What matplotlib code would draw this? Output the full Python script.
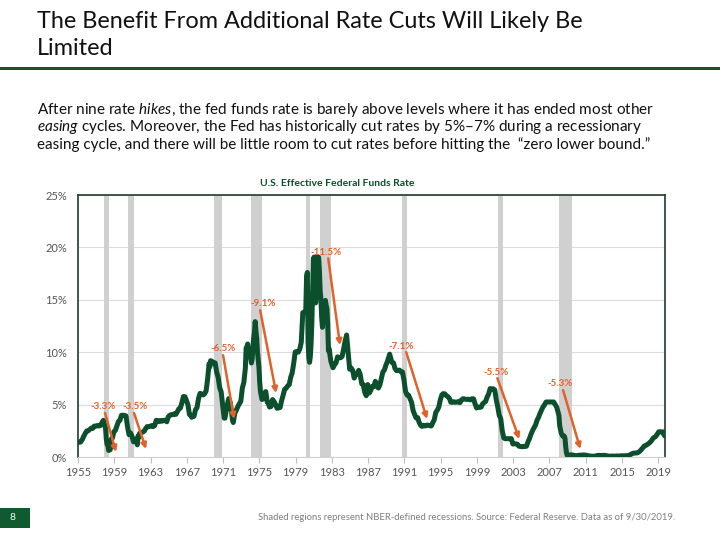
#!/usr/bin/env python3
"""
plot.py - U.S. effective federal funds rate with NBER recessions and the
size of each recessionary easing cycle.
"""

import matplotlib
matplotlib.use("Agg")
import matplotlib.pyplot as plt
from matplotlib.patches import Rectangle

# monthly averages of the effective fed funds rate
obs_dates = [
    "1955-01", "1955-04", "1955-06", "1955-08", "1955-10", "1955-12",
    "1956-02", "1956-04", "1956-06", "1956-08", "1956-10", "1956-12",
    "1957-02", "1957-04", "1957-06", "1957-08", "1957-10", "1957-11", "1957-12",
    "1958-01", "1958-02", "1958-03", "1958-04", "1958-05", "1958-06",
    "1958-07", "1958-08", "1958-09", "1958-10", "1958-12",
    "1959-02", "1959-04", "1959-06", "1959-08", "1959-10", "1959-12",
    "1960-02", "1960-04", "1960-06", "1960-08", "1960-10", "1960-12",
    "1961-02", "1961-04", "1961-06", "1961-07", "1961-08", "1961-09", "1961-10", "1961-12",
    "1962-02", "1962-04", "1962-06", "1962-08", "1962-10", "1962-12",
    "1963-02", "1963-04", "1963-06", "1963-08", "1963-10", "1963-12",
    "1964-02", "1964-04", "1964-06", "1964-08", "1964-10", "1964-12",
    "1965-02", "1965-04", "1965-06", "1965-08", "1965-10", "1965-12",
    "1966-02", "1966-04", "1966-06", "1966-08", "1966-10", "1966-12",
    "1967-02", "1967-04", "1967-06", "1967-07", "1967-08", "1967-10", "1967-12",
    "1968-02", "1968-04", "1968-06", "1968-08", "1968-10", "1968-12",
    "1969-02", "1969-04", "1969-06", "1969-07", "1969-08", "1969-10", "1969-12",
    "1970-02", "1970-04", "1970-06", "1970-08", "1970-10", "1970-12",
    "1971-02", "1971-03", "1971-04", "1971-06", "1971-07", "1971-08", "1971-10", "1971-12",
    "1972-01", "1972-02", "1972-04", "1972-06", "1972-08", "1972-10", "1972-12",
    "1973-02", "1973-04", "1973-06", "1973-07", "1973-08", "1973-09", "1973-10", "1973-12",
    "1974-02", "1974-03", "1974-04", "1974-05", "1974-06", "1974-07", "1974-08",
    "1974-09", "1974-10", "1974-12",
    "1975-01", "1975-02", "1975-04", "1975-06", "1975-07", "1975-09", "1975-11", "1975-12",
    "1976-02", "1976-04", "1976-06", "1976-08", "1976-10", "1976-12",
    "1977-02", "1977-04", "1977-06", "1977-08", "1977-10", "1977-12",
    "1978-02", "1978-04", "1978-06", "1978-08", "1978-10", "1978-12",
    "1979-02", "1979-04", "1979-06", "1979-08", "1979-10", "1979-12",
    "1980-01", "1980-02", "1980-03", "1980-04", "1980-05", "1980-06",
    "1980-07", "1980-08", "1980-09", "1980-10", "1980-11", "1980-12",
    "1981-01", "1981-02", "1981-03", "1981-04", "1981-05", "1981-06",
    "1981-07", "1981-08", "1981-09", "1981-10", "1981-11", "1981-12",
    "1982-01", "1982-02", "1982-03", "1982-04", "1982-05", "1982-06",
    "1982-07", "1982-08", "1982-09", "1982-10", "1982-11", "1982-12",
    "1983-02", "1983-04", "1983-06", "1983-08", "1983-10", "1983-12",
    "1984-02", "1984-04", "1984-06", "1984-08", "1984-10", "1984-12",
    "1985-02", "1985-04", "1985-06", "1985-08", "1985-10", "1985-12",
    "1986-02", "1986-04", "1986-06", "1986-08", "1986-10", "1986-12",
    "1987-02", "1987-04", "1987-06", "1987-08", "1987-10", "1987-12",
    "1988-02", "1988-04", "1988-06", "1988-08", "1988-10", "1988-12",
    "1989-02", "1989-03", "1989-05", "1989-06", "1989-08", "1989-10", "1989-12",
    "1990-02", "1990-04", "1990-06", "1990-08", "1990-10", "1990-12",
    "1991-02", "1991-04", "1991-06", "1991-08", "1991-10", "1991-12",
    "1992-02", "1992-04", "1992-06", "1992-08", "1992-10", "1992-12",
    "1993-02", "1993-04", "1993-06", "1993-08", "1993-10", "1993-12",
    "1994-02", "1994-04", "1994-06", "1994-08", "1994-10", "1994-12",
    "1995-02", "1995-04", "1995-06", "1995-08", "1995-10", "1995-12",
    "1996-02", "1996-04", "1996-06", "1996-08", "1996-10", "1996-12",
    "1997-02", "1997-04", "1997-06", "1997-08", "1997-10", "1997-12",
    "1998-02", "1998-04", "1998-06", "1998-08", "1998-10", "1998-12",
    "1999-02", "1999-04", "1999-06", "1999-08", "1999-10", "1999-12",
    "2000-02", "2000-04", "2000-06", "2000-08", "2000-10", "2000-12",
    "2001-01", "2001-02", "2001-04", "2001-06", "2001-08", "2001-10", "2001-12",
    "2002-02", "2002-04", "2002-06", "2002-08", "2002-10", "2002-12",
    "2003-02", "2003-04", "2003-06", "2003-08", "2003-10", "2003-12",
    "2004-02", "2004-04", "2004-06", "2004-08", "2004-10", "2004-12",
    "2005-02", "2005-04", "2005-06", "2005-08", "2005-10", "2005-12",
    "2006-02", "2006-04", "2006-06", "2006-08", "2006-10", "2006-12",
    "2007-02", "2007-04", "2007-06", "2007-08", "2007-10", "2007-12",
    "2008-01", "2008-02", "2008-04", "2008-06", "2008-08", "2008-09",
    "2008-10", "2008-11", "2008-12",
    "2009-03", "2009-06", "2009-09", "2009-12",
    "2010-03", "2010-06", "2010-09", "2010-12",
    "2011-03", "2011-06", "2011-09", "2011-12",
    "2012-03", "2012-06", "2012-09", "2012-12",
    "2013-03", "2013-06", "2013-09", "2013-12",
    "2014-03", "2014-06", "2014-09", "2014-12",
    "2015-03", "2015-06", "2015-09", "2015-12",
    "2016-03", "2016-06", "2016-09", "2016-12",
    "2017-03", "2017-06", "2017-09", "2017-12",
    "2018-03", "2018-06", "2018-09", "2018-12",
    "2019-01", "2019-03", "2019-06", "2019-07", "2019-08", "2019-09",
]
obs_rates = [
    1.39, 1.43, 1.64, 1.96, 2.24, 2.48,
    2.50, 2.62, 2.75, 2.73, 2.95, 2.94,
    3.00, 2.96, 3.00, 3.24, 3.50, 3.28, 2.98,
    2.72, 1.67, 1.20, 1.26, 0.63, 0.93,
    0.68, 1.53, 1.76, 1.80, 2.42,
    2.54, 2.96, 3.39, 3.50, 3.98, 3.99,
    3.97, 3.92, 2.92, 2.13, 2.30, 1.98,
    1.45, 1.49, 1.73, 1.16, 2.00, 1.88, 2.26, 2.33,
    2.37, 2.46, 2.71, 2.90, 2.90, 2.93,
    3.00, 2.90, 3.00, 3.50, 3.48, 3.38,
    3.48, 3.42, 3.50, 3.50, 3.36, 3.85,
    3.98, 4.04, 4.04, 4.12, 4.07, 4.32,
    4.60, 4.67, 5.17, 5.77, 5.76, 5.40,
    4.98, 4.05, 3.98, 3.79, 3.90, 3.88, 4.51,
    4.71, 5.58, 6.07, 6.02, 5.92, 6.02,
    6.30, 7.41, 8.90, 8.61, 9.19, 9.12, 8.97,
    8.98, 8.10, 7.60, 6.62, 6.20, 4.90,
    3.71, 3.71, 4.15, 4.91, 5.31, 5.57, 5.20, 4.14,
    3.50, 3.29, 4.17, 4.46, 4.81, 5.06, 5.33,
    6.58, 7.12, 8.49, 10.40, 10.50, 10.78, 10.01, 9.95,
    8.97, 9.35, 10.51, 11.31, 11.93, 12.92, 12.01,
    11.34, 10.06, 8.53,
    7.13, 6.24, 5.49, 5.55, 6.10, 6.24, 5.22, 5.20,
    4.77, 4.82, 5.48, 5.29, 5.00, 4.65,
    4.68, 4.73, 5.39, 5.90, 6.47, 6.56,
    6.78, 6.90, 7.60, 8.04, 8.96, 10.03,
    10.06, 10.01, 10.29, 10.94, 13.77, 13.78,
    13.82, 14.13, 17.19, 17.61, 10.98, 9.47,
    9.03, 9.61, 10.87, 12.81, 15.85, 18.90,
    19.08, 15.93, 14.70, 15.72, 18.52, 19.10,
    19.04, 17.82, 15.87, 15.08, 13.31, 12.37,
    13.22, 14.78, 14.68, 14.94, 14.45, 14.15,
    12.59, 10.12, 10.31, 9.71, 9.20, 8.95,
    8.51, 8.80, 8.98, 9.56, 9.48, 9.47,
    9.59, 10.29, 11.06, 11.64, 9.99, 8.38,
    8.50, 8.27, 7.53, 7.90, 7.92, 8.27,
    7.86, 6.99, 6.92, 6.17, 5.85, 6.91,
    6.10, 6.36, 6.73, 6.73, 7.22, 6.77,
    6.58, 6.87, 7.51, 8.12, 8.30, 8.76,
    9.12, 9.36, 9.81, 9.53, 9.02, 8.99, 8.45,
    8.24, 8.26, 8.29, 8.13, 8.11, 7.31,
    6.25, 5.91, 5.90, 5.56, 5.21, 4.43,
    4.06, 3.73, 3.76, 3.30, 3.02, 2.92,
    3.03, 2.96, 3.04, 3.03, 2.99, 2.96,
    3.25, 3.56, 4.25, 4.47, 4.76, 5.45,
    5.92, 6.05, 6.02, 5.85, 5.76, 5.60,
    5.22, 5.22, 5.27, 5.22, 5.24, 5.29,
    5.19, 5.45, 5.56, 5.54, 5.50, 5.50,
    5.51, 5.45, 5.56, 5.55, 5.07, 4.68,
    4.76, 4.74, 4.76, 5.07, 5.20, 5.30,
    5.73, 6.02, 6.53, 6.50, 6.51, 6.40,
    5.98, 5.49, 4.80, 3.97, 3.65, 2.49, 1.82,
    1.74, 1.75, 1.75, 1.74, 1.75, 1.24,
    1.26, 1.25, 1.22, 1.03, 1.01, 0.98,
    1.01, 1.00, 1.03, 1.43, 1.76, 2.16,
    2.50, 2.79, 3.04, 3.50, 3.78, 4.16,
    4.49, 4.79, 4.99, 5.25, 5.25, 5.24,
    5.26, 5.25, 5.25, 5.02, 4.76, 4.24,
    3.94, 2.98, 2.28, 2.00, 2.00, 1.81,
    0.97, 0.39, 0.16,
    0.18, 0.21, 0.15, 0.12,
    0.16, 0.18, 0.19, 0.18,
    0.14, 0.09, 0.08, 0.07,
    0.13, 0.16, 0.14, 0.16,
    0.14, 0.09, 0.08, 0.09,
    0.08, 0.10, 0.09, 0.12,
    0.11, 0.13, 0.14, 0.24,
    0.36, 0.38, 0.40, 0.54,
    0.79, 1.04, 1.15, 1.30,
    1.51, 1.82, 1.95, 2.27,
    2.40, 2.41, 2.38, 2.40, 2.13, 2.04,
]

# NBER recessions as shaded on the chart (decimal years)
recession_start = [1957.85, 1960.50, 1970.05, 1974.05, 1980.15, 1981.70, 1990.75, 2001.30, 2008.00]
recession_end = [1958.40, 1961.15, 1970.90, 1975.25, 1980.55, 1982.90, 1991.25, 2001.85, 2009.45]

# size of each recessionary easing cycle
cut_labels = ["-3.3%", "-3.5%", "-6.5%", "-9.1%", "-11.5%", "-7.1%", "-5.5%", "-5.3%"]

x_ticks = list(range(1955, 2020, 4))
y_ticks = [0, 5, 10, 15, 20, 25]

GREEN = "#0b4f2c"
ORANGE = "#e0622a"
FONT = "Lato"

plt.rcParams["font.family"] = [FONT, "DejaVu Sans"]
plt.rcParams["mathtext.fontset"] = "custom"
plt.rcParams["mathtext.rm"] = FONT
plt.rcParams["mathtext.it"] = FONT + ":italic"


def to_year(s):
    return int(s[:4]) + (int(s[5:7]) - 0.5) / 12.0


def fy(py):
    # pixel row -> figure fraction
    return 1 - py / 540.0


xs = [to_year(d) for d in obs_dates]

fig = plt.figure(figsize=(7.2, 5.4), dpi=100)
ax = fig.add_axes([78 / 720, 83 / 540, 587 / 720, 262 / 540])

for a, b in zip(recession_start, recession_end):
    ax.axvspan(a, b, color="#d0d0d0", lw=0, zorder=1)

ax.plot(xs, obs_rates, color=GREEN, lw=3.6, solid_joinstyle="round", zorder=3)

ax.set_xlim(1955.0, 2019.74)
ax.set_ylim(0, 25)
ax.set_xticks(x_ticks)
ax.set_yticks(y_ticks)
ax.set_yticklabels([f"{v}%" for v in y_ticks])
ax.tick_params(axis="y", length=0, pad=8, labelsize=8, labelcolor="#555555")
ax.tick_params(axis="x", length=4, color="#bfbfbf", pad=3, labelsize=8,
               labelcolor="#555555")
ax.grid(axis="y", color="#dcdcdc", lw=0.8, zorder=0)
ax.set_axisbelow(True)
for side in ("left", "top", "right"):
    ax.spines[side].set_color("#1f3d2d")
    ax.spines[side].set_linewidth(1.2)
ax.spines["bottom"].set_color("#cfcfcf")

# cut annotations: label position, arrow start and arrow end (data units)
label_x = [1957.8, 1961.3, 1971.0, 1975.4, 1982.3, 1990.65, 2001.1, 2008.2]
label_y = [4.86, 4.86, 10.38, 14.67, 19.5, 10.57, 8.1, 7.05]
arrow_x0 = [1957.98, 1961.18, 1971.0, 1975.09, 1982.6, 1991.2, 2001.25, 2008.5]
arrow_y0 = [4.19, 4.19, 9.71, 14.0, 18.95, 10.0, 7.52, 6.38]
arrow_x1 = [1959.19, 1962.5, 1972.22, 1976.85, 1983.9, 1993.5, 2003.67, 2010.4]
arrow_y1 = [0.48, 0.76, 3.62, 6.1, 10.67, 3.62, 1.71, 0.76]

for i, lab in enumerate(cut_labels):
    ax.annotate("", xy=(arrow_x1[i], arrow_y1[i]), xytext=(arrow_x0[i], arrow_y0[i]),
                arrowprops=dict(arrowstyle="-|>", color=ORANGE, lw=1.8,
                                mutation_scale=8, shrinkA=0, shrinkB=0),
                zorder=4)
    ax.text(label_x[i], label_y[i], lab, color=ORANGE, fontsize=7, fontweight="bold",
            ha="center", va="center", zorder=5)

# page furniture
fig.text(37 / 720, fy(28), "The Benefit From Additional Rate Cuts Will Likely Be",
         fontsize=16.9, va="baseline", color="#111111")
fig.text(37 / 720, fy(55), "Limited", fontsize=16.9, va="baseline", color="#111111")
fig.add_artist(Rectangle((0, fy(70)), 1, 3 / 540, transform=fig.transFigure,
                         color="#1d4f2e", lw=0))

body = [
    r"After nine rate $\mathit{hikes}$, the fed funds rate is barely above levels where it has ended most other",
    r"$\mathit{easing}$ cycles. Moreover, the Fed has historically cut rates by 5%–7% during a recessionary",
    "easing cycle, and there will be little room to cut rates before hitting the  “zero lower bound.”",
]
for k, line in enumerate(body):
    fig.text(37 / 720, fy(114 + 17.5 * k), line, fontsize=11, va="baseline",
             color="#111111")

fig.text(337 / 720, fy(184), "U.S. Effective Federal Funds Rate", fontsize=7.5,
         fontweight="bold", color=GREEN, ha="center", va="center")

fig.add_artist(Rectangle((0, fy(528)), 30 / 720, 20 / 540, transform=fig.transFigure,
                         color="#0f5a2e", lw=0))
fig.text(9 / 720, fy(518), "8", color="white", fontsize=7.5, va="center")
fig.text(258 / 720, fy(518),
         "Shaded regions represent NBER-defined recessions. Source: Federal Reserve. "
         "Data as of 9/30/2019.",
         fontsize=6.8, color="#7f7f7f", va="center")

fig.savefig("out.png", dpi=100)
